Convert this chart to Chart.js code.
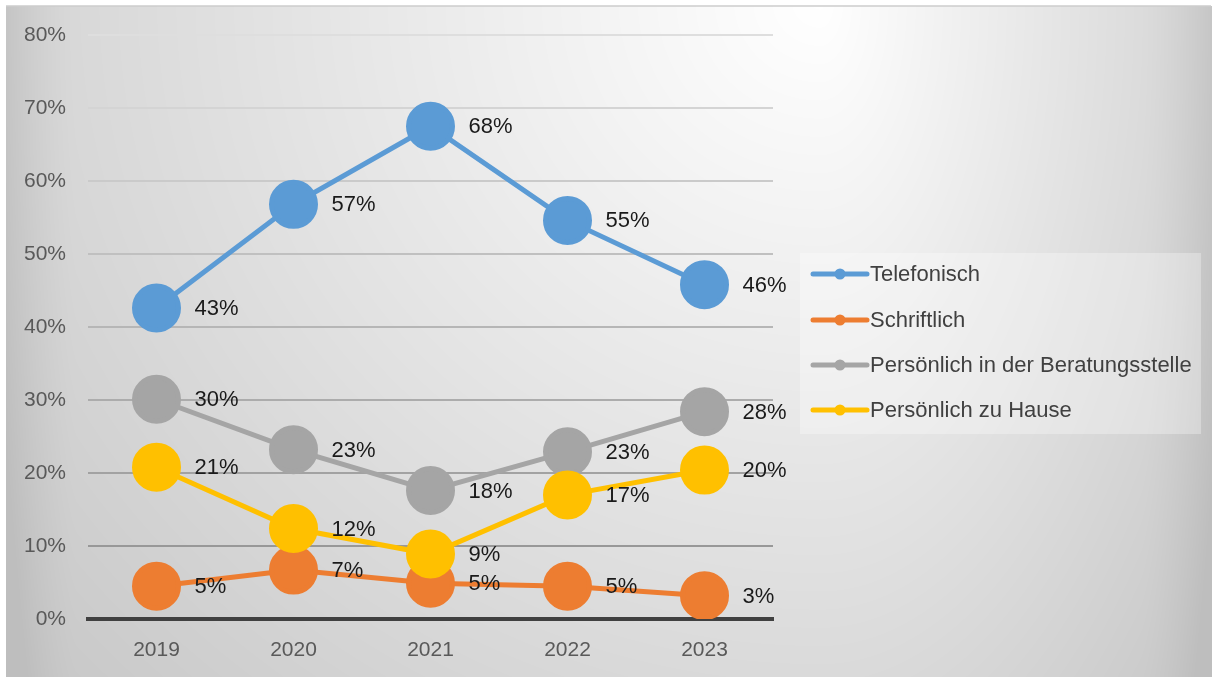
<!DOCTYPE html>
<html>
<head>
<meta charset="utf-8">
<script src="https://cdn.jsdelivr.net/npm/chart.js@4"></script>
<style>
  html, body { margin: 0; padding: 0; background: #ffffff; }
  #wrap { position: relative; width: 1215px; height: 677px; }
  #wrap canvas { display: block; position: absolute; left: 0; top: 0; }
</style>
</head>
<body>
<div id="wrap">
  <canvas id="bg" width="1215" height="677"></canvas>
  <canvas id="c" width="1215" height="677"></canvas>
</div>
<script>
const categories = ['2019', '2020', '2021', '2022', '2023'];
const seriesNames = ['Telefonisch', 'Schriftlich', 'Persönlich in der Beratungsstelle', 'Persönlich zu Hause'];
const telefonisch = [42.6, 56.8, 67.5, 54.6, 45.8];
const schriftlich = [4.5, 6.7, 4.9, 4.5, 3.2];
const beratungsstelle = [30.1, 23.2, 17.6, 22.9, 28.4];
const zuHause = [20.8, 12.4, 8.9, 17.0, 20.4];
const seriesColors = ['#5B9BD5', '#ED7D31', '#A5A5A5', '#FFC000'];
const yTicks = [0, 10, 20, 30, 40, 50, 60, 70, 80];
const FONT = '"Liberation Sans", Arial, sans-serif';

// chart frame background: soft grey gradient, brightest near the top right
(function drawBackground() {
  const cv = document.getElementById('bg');
  const ctx = cv.getContext('2d');
  const W = cv.width, H = cv.height;
  const img = ctx.createImageData(W, H);
  const d = img.data;
  const x0 = 6, x1 = 1211, y0 = 6;
  const cx = 820, cy = 0;
  for (let y = 0; y < H; y++) {
    for (let x = 0; x < W; x++) {
      const i = (y * W + x) * 4;
      let v = 255;
      if (x >= x0 && x <= x1 && y >= y0) {
        const dx = (x < cx ? 0.052 : 0.11) * (x - cx);
        const dy = 0.055 * (y - cy);
        v = 255 - Math.sqrt(dx * dx + dy * dy);
        const el = x - x0, er = x1 - x;
        if (el < 70) v -= 16 * Math.pow(1 - el / 70, 1.5);
        if (er < 70) v -= 14 * Math.pow(1 - er / 70, 1.5);
        if (v < 190) v = 190;
      }
      d[i] = d[i + 1] = d[i + 2] = Math.round(v);
      d[i + 3] = 255;
    }
  }
  ctx.putImageData(img, 0, 0);
  ctx.strokeStyle = '#cccccc';
  ctx.lineWidth = 1.5;
  ctx.beginPath();
  ctx.moveTo(x0, y0);
  ctx.lineTo(x1, y0);
  ctx.stroke();
})();

function gridShade(v) {
  const g = Math.round(222 - (80 - v) * 1.0);
  return 'rgb(' + g + ',' + g + ',' + g + ')';
}

const labelPlugin = {
  id: 'pointLabels',
  afterDatasetsDraw(chart) {
    const ctx = chart.ctx;
    ctx.save();
    ctx.font = '22px ' + FONT;
    ctx.fillStyle = '#1a1a1a';
    ctx.textAlign = 'left';
    ctx.textBaseline = 'middle';
    chart.data.datasets.forEach((ds, di) => {
      const meta = chart.getDatasetMeta(di);
      meta.data.forEach((pt, i) => {
        ctx.fillText(Math.round(ds.data[i]) + '%', pt.x + 38, pt.y + 1);
      });
    });
    ctx.restore();
  }
};

const legendPlugin = {
  id: 'customLegend',
  afterDraw(chart) {
    const ctx = chart.ctx;
    ctx.save();
    ctx.fillStyle = 'rgba(255,255,255,0.3)';
    ctx.fillRect(800, 253, 401, 181);
    ctx.font = '22px ' + FONT;
    ctx.textBaseline = 'middle';
    ctx.textAlign = 'left';
    const rowY = [274, 320, 365, 410];
    chart.data.datasets.forEach((ds, i) => {
      const y = rowY[i];
      ctx.strokeStyle = ds.borderColor;
      ctx.lineWidth = 5;
      ctx.lineCap = 'round';
      ctx.beginPath();
      ctx.moveTo(813, y);
      ctx.lineTo(867, y);
      ctx.stroke();
      ctx.fillStyle = ds.borderColor;
      ctx.beginPath();
      ctx.arc(840, y, 5.5, 0, Math.PI * 2);
      ctx.fill();
      ctx.fillStyle = '#404040';
      ctx.fillText(ds.label, 870, y + 1);
    });
    ctx.restore();
  }
};

const seriesData = [telefonisch, schriftlich, beratungsstelle, zuHause];

new Chart(document.getElementById('c'), {
  type: 'line',
  data: {
    labels: categories,
    datasets: seriesData.map((arr, i) => ({
      label: seriesNames[i],
      data: arr,
      borderColor: seriesColors[i],
      backgroundColor: seriesColors[i],
      pointBackgroundColor: seriesColors[i],
      pointBorderColor: seriesColors[i],
      pointRadius: 22,
      pointHoverRadius: 22,
      borderWidth: 5,
      tension: 0,
      fill: false,
      order: 4 - i
    }))
  },
  options: {
    responsive: false,
    animation: false,
    devicePixelRatio: 1,
    layout: { padding: { left: 0, right: 442, top: 35, bottom: 18 } },
    plugins: { legend: { display: false }, tooltip: { enabled: false } },
    scales: {
      x: {
        offset: true,
        grid: { display: false, drawTicks: false },
        border: { display: true, color: '#404040', width: 4 },
        ticks: { color: '#595959', font: { family: FONT, size: 21 }, padding: 19 },
        afterFit(s) { s.height = 40; }
      },
      y: {
        min: 0, max: 80,
        afterBuildTicks(s) { s.ticks = yTicks.map(v => ({ value: v })); },
        grid: {
          drawTicks: false,
          color: c => (c.tick && c.tick.value === 0) ? 'rgba(0,0,0,0)' : gridShade(c.tick ? c.tick.value : 50),
          lineWidth: 2
        },
        border: { display: false },
        ticks: { color: '#595959', font: { family: FONT, size: 21 }, padding: 22, callback: v => v + '%' },
        afterFit(s) { s.width = 88; }
      }
    }
  },
  plugins: [labelPlugin, legendPlugin]
});
</script>
</body>
</html>
